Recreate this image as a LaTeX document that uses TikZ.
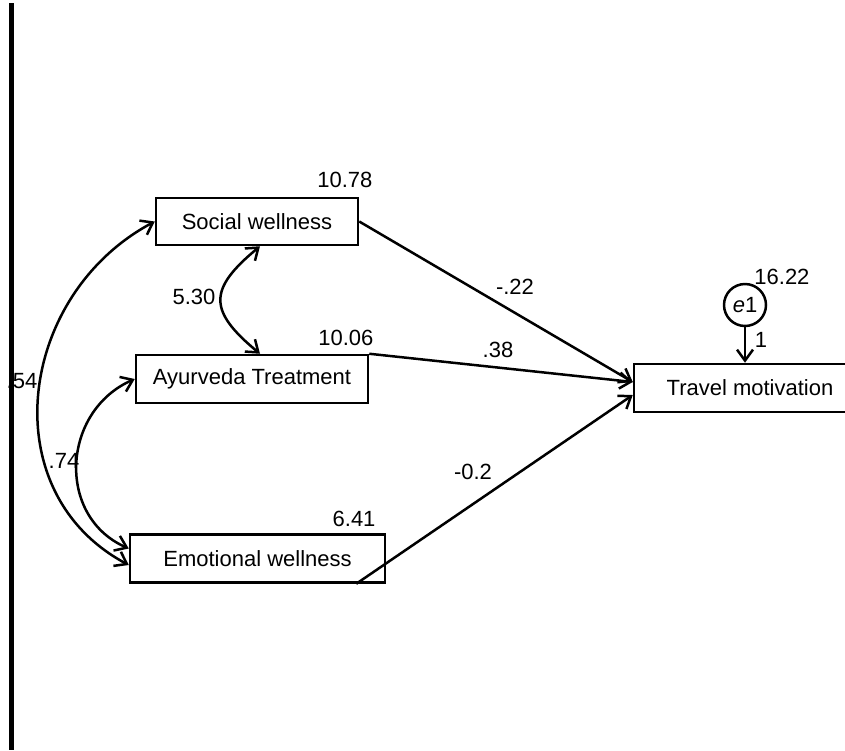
\documentclass[tikz,border=0pt]{standalone}
\usepackage{fontspec}
\setmainfont{Liberation Sans}
\usetikzlibrary{arrows.meta}
\begin{document}
\begin{tikzpicture}
[x=1pt,y=-1pt,
  boxDecorate/.style={shape=rectangle,draw,line width=2.5pt,minimum height=48pt,inner sep=0pt},%
  circleDecorate/.style={shape=circle,draw,line width=2.5pt,minimum size=42pt,inner sep=0pt},%
  pathArrow/.style={->,>={Straight Barb[length=11pt,width=16pt]},line width=2.5pt},%
  covArrow/.style={<->,>={Straight Barb[length=11pt,width=16pt]},line width=2.5pt},%
  font=\fontsize{22}{26}\selectfont]
\useasboundingbox (0,0) rectangle (845,750);
%% variables
\node (social) at (257,221.5) [boxDecorate,minimum width=202pt,minimum height=47pt] {Social wellness};
\node (ayur) at (252,379) [boxDecorate,minimum width=232pt] {Ayurveda Treatment};
\node (emo) at (257.5,558.5) [boxDecorate,minimum width=255pt] {Emotional wellness};
\node (travel) at (750,388) [boxDecorate,minimum width=232pt] {Travel motivation};
\node (e1) at (745,305) [circleDecorate] {\textit{e}1};
%% variances
\foreach \labelname/\x/\y/\val in {vsocial/376/180/10.78, vayur/377/338/10.06, vemo/379/519/6.41, ve1/813/277/16.22}
{
  \node (\labelname) at (\x,\y) [anchor=east] {\val};
}
%% estimates
\foreach \labelname/\x/\y/\val in {esocial/515/287/-.22, eayur/498/350/.38, eemo/473/472/-0.2, ce1/761/340/1, csa/194/297/5.30, cae/64/461/.74}
{
  \node (\labelname) at (\x,\y) {\val};
}
\node (cse) at (37.5,381) [anchor=east,inner sep=0pt] {.54};
%% regression paths
\draw[pathArrow] (social.east) -- ([yshift=6pt]travel.west);
\draw[pathArrow] (ayur.north east) -- ([yshift=6pt]travel.west);
\draw[pathArrow] ([xshift=-30pt]emo.south east) -- ([yshift=-7pt]travel.west);
\draw[pathArrow] (e1.south) -- (e1.south |- travel.north);
%% covariances
\draw[covArrow] ([xshift=3pt]social.south) .. controls +(-52,43) and +(-52,-43) .. ([xshift=8pt]ayur.north);
\draw[covArrow] (social.west) .. controls +(-137,73) and +(-137,-73) .. ([yshift=-6.5pt]emo.west);
\draw[covArrow] (ayur.west) .. controls +(-73,32) and +(-73,-32) .. ([yshift=10pt]emo.west);
%% margin rule
\draw[line width=5pt] (11.5,3) -- (11.5,750);
\end{tikzpicture}
\end{document}
